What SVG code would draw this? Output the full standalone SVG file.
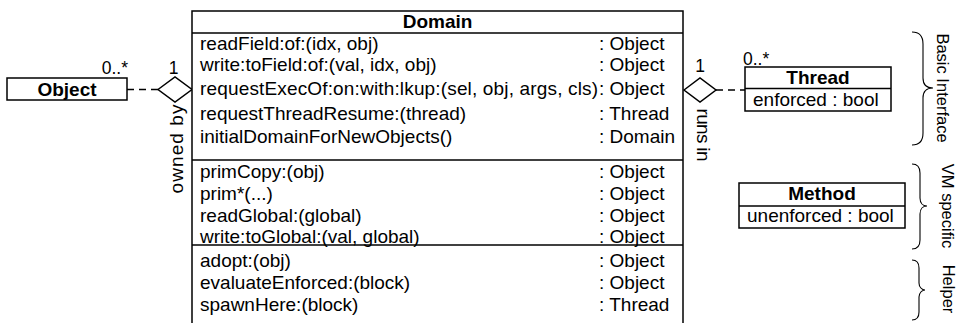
<svg xmlns="http://www.w3.org/2000/svg" width="957" height="323" viewBox="0 0 957 323">
<style>
text{font-family:"Liberation Sans",Arial,Helvetica,sans-serif;fill:#000}
.t{font-size:19px}
.b{font-size:19px;font-weight:bold}
.m{font-size:17.5px}
.s{font-size:16.5px}
.box{fill:#fff;stroke:#000;stroke-width:1.5}
.ln{stroke:#000;stroke-width:1.5}
.dash{stroke:#000;stroke-width:1.4;stroke-dasharray:7 5;fill:none}
.dia{fill:#fff;stroke:#000;stroke-width:1.5}
.brace{fill:none;stroke:#000;stroke-width:1.1}
</style>
<rect width="957" height="323" fill="#fff"/>
<g id="connectors">
<line class="dash" x1="127" y1="89.5" x2="158" y2="89.5"/>
<polygon class="dia" points="158,89.5 175,77 192,89.5 175,102"/>
<text class="m" x="128" y="74" text-anchor="end">0..*</text>
<text class="m" x="173.5" y="74" text-anchor="middle">1</text>
<text class="t" transform="translate(183 149) rotate(-90)" text-anchor="middle" textLength="89" lengthAdjust="spacing">owned by</text>
<line class="dash" x1="716" y1="90" x2="745" y2="90"/>
<polygon class="dia" points="684,90 700,78 716,90 700,102"/>
<text class="m" x="700" y="72" text-anchor="middle">1</text>
<text class="m" x="743" y="64.5">0..*</text>
<text class="t" transform="translate(697 135) rotate(90)" text-anchor="middle" textLength="53" lengthAdjust="spacing">runs in</text>
</g>
<g id="domain">
<rect class="box" x="192" y="11" width="491" height="330"/>
<line class="ln" x1="192" y1="33" x2="683" y2="33"/>
<line class="ln" x1="192" y1="160" x2="683" y2="160"/>
<line class="ln" x1="192" y1="245" x2="683" y2="245"/>
<text class="b" x="437.5" y="28" text-anchor="middle">Domain</text>
<text class="t" x="200" y="50">readField:of:(idx, obj)</text>
<text class="t" x="599" y="50">: Object</text>
<text class="t" x="200" y="71">write:toField:of:(val, idx, obj)</text>
<text class="t" x="599" y="71">: Object</text>
<text class="t" x="200" y="95" textLength="398" lengthAdjust="spacing">requestExecOf:on:with:lkup:(sel, obj, args, cls)</text>
<text class="t" x="599" y="95">: Object</text>
<text class="t" x="200" y="120">requestThreadResume:(thread)</text>
<text class="t" x="599" y="120">: Thread</text>
<text class="t" x="200" y="143">initialDomainForNewObjects()</text>
<text class="t" x="599" y="143">: Domain</text>
<text class="t" x="200" y="178">primCopy:(obj)</text>
<text class="t" x="599" y="178">: Object</text>
<text class="t" x="200" y="200">prim*(...)</text>
<text class="t" x="599" y="200">: Object</text>
<text class="t" x="200" y="222">readGlobal:(global)</text>
<text class="t" x="599" y="222">: Object</text>
<text class="t" x="200" y="243">write:toGlobal:(val, global)</text>
<text class="t" x="599" y="243">: Object</text>
<text class="t" x="200" y="267">adopt:(obj)</text>
<text class="t" x="599" y="267">: Object</text>
<text class="t" x="200" y="289">evaluateEnforced:(block)</text>
<text class="t" x="599" y="289">: Object</text>
<text class="t" x="200" y="311">spawnHere:(block)</text>
<text class="t" x="599" y="311">: Thread</text>
</g>
<g id="object">
<rect class="box" x="7" y="78" width="120" height="22"/>
<text class="b" x="67" y="95.5" text-anchor="middle">Object</text>
</g>
<g id="thread">
<rect class="box" x="745" y="67" width="146" height="44"/>
<line class="ln" x1="745" y1="88.5" x2="891" y2="88.5"/>
<text class="b" x="818" y="83.5" text-anchor="middle">Thread</text>
<text class="t" x="753" y="106">enforced : bool</text>
</g>
<g id="method">
<rect class="box" x="739" y="183" width="166" height="45"/>
<line class="ln" x1="739" y1="206" x2="905" y2="206"/>
<text class="b" x="822" y="200" text-anchor="middle">Method</text>
<text class="t" x="747" y="222">unenforced : bool</text>
</g>
<g id="basic-interface">
<path class="brace" d="M912,32 C919,32 923,36 923,44 L923,78 C923,85 927,88 933,88 C927,88 923,91 923,98 L923,133 C923,141 919,145 912,145"/>
<text class="s" transform="translate(937 88) rotate(90)" text-anchor="middle">Basic Interface</text>
</g>
<g id="vm-specific">
<path class="brace" d="M912,164 C917,164 920,167 920,173 L920,198 C920,203 923,206 927,206 C923,206 920,209 920,214 L920,240 C920,246 917,249 912,249"/>
<text class="s" transform="translate(942 206) rotate(90)" text-anchor="middle">VM specific</text>
</g>
<g id="helper">
<path class="brace" d="M912,260 C917,260 919,263 919,268 L919,283 C919,287 922,290 925,290 C922,290 919,293 919,297 L919,312 C919,317 917,320 912,320"/>
<text class="s" transform="translate(943 289) rotate(90)" text-anchor="middle">Helper</text>
</g>
</svg>
